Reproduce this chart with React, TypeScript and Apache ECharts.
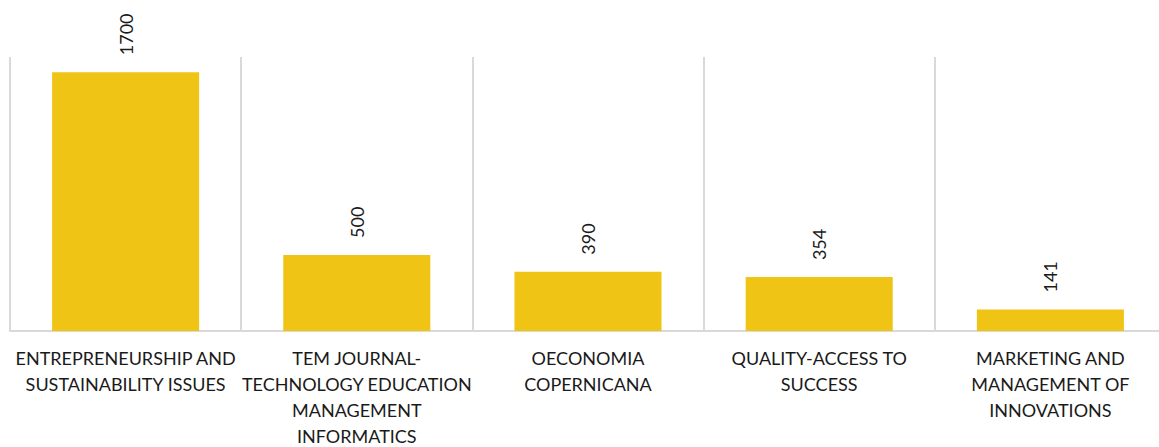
import React, { useEffect, useRef } from "react";
import * as echarts from "echarts";

const categories = [
  "ENTREPRENEURSHIP AND\nSUSTAINABILITY ISSUES",
  "TEM JOURNAL-\nTECHNOLOGY EDUCATION\nMANAGEMENT\nINFORMATICS",
  "OECONOMIA\nCOPERNICANA",
  "QUALITY-ACCESS TO\nSUCCESS",
  "MARKETING AND\nMANAGEMENT OF\nINNOVATIONS",
];
const values = [1700, 500, 390, 354, 141];

const FONT = "Lato, 'Open Sans', sans-serif";

export default function App() {
  const ref = useRef<HTMLDivElement>(null);
  useEffect(() => {
    if (!ref.current) return;
    const chart = echarts.init(ref.current, undefined, { renderer: "svg" });
    chart.setOption({
      animation: false,
      grid: {
        left: 10,
        width: 1156,
        top: 57,
        bottom: 116,
        containLabel: false,
        outerBoundsMode: "none",
      },
      xAxis: {
        type: "category",
        data: categories,
        boundaryGap: true,
        axisLine: { show: true, lineStyle: { color: "#d9d9d9", width: 2 } },
        axisTick: { show: false },
        splitLine: { show: true, lineStyle: { color: "#d9d9d9", width: 2 } },
        axisLabel: {
          interval: 0,
          color: "#1a1a1a",
          fontFamily: FONT,
          fontSize: 18,
          lineHeight: 26,
          margin: 14,
          align: "center",
        },
      },
      yAxis: {
        type: "value",
        min: 0,
        max: 1800,
        show: false,
        splitLine: { show: false },
      },
      series: [
        {
          type: "bar",
          data: values,
          barCategoryGap: "36.4%",
          itemStyle: { color: "#F0C415" },
          label: {
            show: true,
            position: "top",
            rotate: 90,
            align: "left",
            verticalAlign: "middle",
            distance: 17,
            color: "#1a1a1a",
            fontFamily: FONT,
            fontSize: 18,
          },
        },
      ],
    });
    return () => chart.dispose();
  }, []);
  return <div ref={ref} style={{ width: 1159, height: 447, position: "absolute", left: 0, top: 0 }} />;
}
